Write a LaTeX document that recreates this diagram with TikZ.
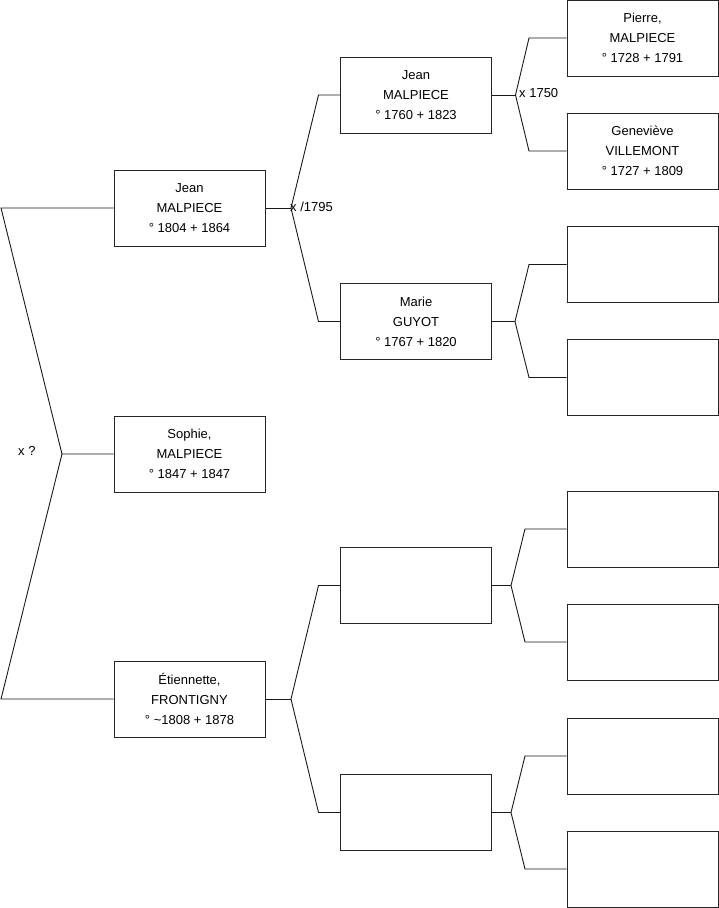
\documentclass[tikz,border=0pt]{standalone}
\usepackage{fontspec}
\setmainfont{Liberation Sans}
\begin{document}
\begin{tikzpicture}[x=1pt,y=-1pt,
  person/.style={draw=black!85,line width=0.9pt,minimum width=151pt,minimum height=76pt,inner sep=0pt,align=center,font=\fontsize{13pt}{20pt}\selectfont},
  link/.style={draw=black!90,line width=0.9pt},
  lbl/.style={font=\fontsize{13pt}{16pt}\selectfont,inner sep=0pt}]
\useasboundingbox (0,0) rectangle (719,908);
% generation 0
\node[person] (a1) at (189.5,208) {Jean\\MALPIECE\\° 1804 + 1864};
\node[person] (a2) at (189.5,454) {Sophie,\\MALPIECE\\° 1847 + 1847};
\node[person] (a3) at (189.5,699) {Étiennette,\\FRONTIGNY\\° \textasciitilde1808 + 1878};
% generation 1
\node[person] (b1) at (416,95) {Jean\\MALPIECE\\° 1760 + 1823};
\node[person] (b2) at (416,321.5) {Marie\\GUYOT\\° 1767 + 1820};
\node[person] (b3) at (416,585.5) {};
\node[person] (b4) at (416,812.5) {};
% generation 2
\node[person] (c1) at (642.5,38) {Pierre,\\MALPIECE\\° 1728 + 1791};
\node[person] (c2) at (642.5,151) {Geneviève\\VILLEMONT\\° 1727 + 1809};
\node[person] (c3) at (642.5,264.5) {};
\node[person] (c4) at (642.5,377.5) {};
\node[person] (c5) at (642.5,529) {};
\node[person] (c6) at (642.5,642) {};
\node[person] (c7) at (642.5,756) {};
\node[person] (c8) at (642.5,869) {};
% root fork
\coordinate (r0) at (62,454);
\coordinate (rt) at (1,208);
\coordinate (rb) at (1,699);
\draw[link] (a2.west) -- (r0) -- (rt) -- (a1.west);
\draw[link] (r0) -- (rb) -- (a3.west);
\node[lbl,anchor=west] (xq) at (18,451) {x ?};
% forks gen0 -> gen1
\coordinate (f1) at (291,208);
\draw[link] (a1.east) -- (f1);
\draw[link] (f1) -- (318.5,95) -- (b1.west);
\draw[link] (f1) -- (318.5,321.5) -- (b2.west);
\node[lbl,anchor=west] (x1795) at (290,207) {x /1795};
\coordinate (f2) at (291,699);
\draw[link] (a3.east) -- (f2);
\draw[link] (f2) -- (318.5,585.5) -- (b3.west);
\draw[link] (f2) -- (318.5,812.5) -- (b4.west);
% forks gen1 -> gen2
\coordinate (g1) at (515.5,95);
\draw[link] (b1.east) -- (g1);
\draw[link] (g1) -- (529,38) -- (c1.west);
\draw[link] (g1) -- (529,151) -- (c2.west);
\node[lbl,anchor=west] (x1750) at (519,93) {x 1750};
\coordinate (g2) at (515,321.5);
\draw[link] (b2.east) -- (g2);
\draw[link] (g2) -- (529,264.5) -- (c3.west);
\draw[link] (g2) -- (529,377.5) -- (c4.west);
\coordinate (g3) at (511,585.5);
\draw[link] (b3.east) -- (g3);
\draw[link] (g3) -- (525,529) -- (c5.west);
\draw[link] (g3) -- (525,642) -- (c6.west);
\coordinate (g4) at (511,812.5);
\draw[link] (b4.east) -- (g4);
\draw[link] (g4) -- (525,756) -- (c7.west);
\draw[link] (g4) -- (525,869) -- (c8.west);
\end{tikzpicture}
\end{document}
